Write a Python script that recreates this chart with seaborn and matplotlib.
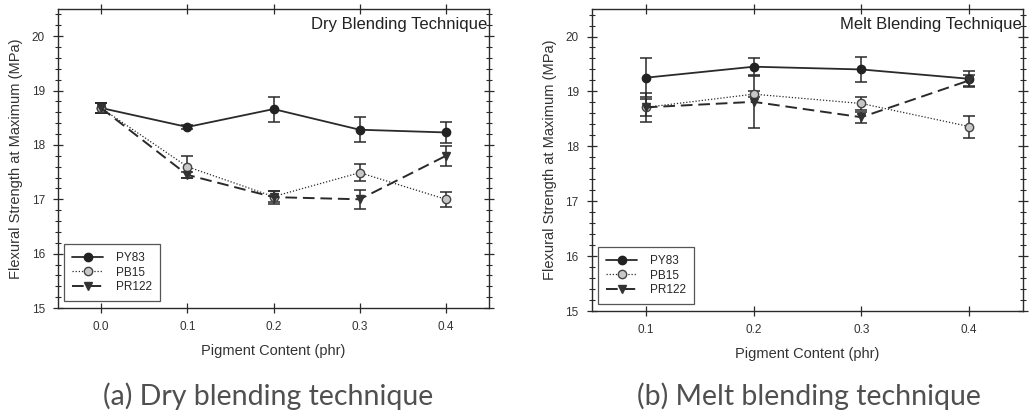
import matplotlib
matplotlib.use("Agg")
import matplotlib.pyplot as plt
from matplotlib.ticker import MultipleLocator, FixedLocator
import numpy as np
import pandas as pd
import seaborn as sns

# Flexural strength (MPa) vs pigment content (phr)
dry_content = [0.0, 0.1, 0.2, 0.3, 0.4]
dry_py83 = [18.68, 18.33, 18.66, 18.28, 18.23]
dry_py83_err = [0.09, 0.04, 0.23, 0.23, 0.20]
dry_pb15 = [18.68, 17.60, 17.05, 17.49, 17.00]
dry_pb15_err = [0.09, 0.20, 0.10, 0.16, 0.14]
dry_pr122 = [18.68, 17.45, 17.04, 17.00, 17.80]
dry_pr122_err = [0.09, 0.05, 0.12, 0.17, 0.18]

melt_content = [0.1, 0.2, 0.3, 0.4]
melt_py83 = [19.25, 19.45, 19.40, 19.23]
melt_py83_err = [0.35, 0.15, 0.22, 0.15]
melt_pb15 = [18.71, 18.95, 18.78, 18.36]
melt_pb15_err = [0.15, 0.05, 0.12, 0.20]
melt_pr122 = [18.71, 18.81, 18.53, 19.20]
melt_pr122_err = [0.27, 0.47, 0.10, 0.10]

pigments = ["PY83", "PB15", "PR122"]
panel_titles = ["Dry Blending Technique", "Melt Blending Technique"]
captions = ["(a) Dry blending technique", "(b) Melt blending technique"]

sns.set_theme(style="white")
plt.rcParams["font.family"] = ["Liberation Sans", "DejaVu Sans"]

styles = {
    "PY83": dict(ls="-", marker="o", mfc="#222222", mec="#222222", lw=1.3),
    "PB15": dict(ls=(0, (1, 1.5)), marker="o", mfc="#c8c8c8", mec="#444444", lw=0.9),
    "PR122": dict(ls=(0, (6, 3)), marker="v", mfc="#333333", mec="#333333", lw=1.4),
}
ink = "#2a2a2a"
label_color = "#333333"


def build_frame(content, values, errors):
    rows = []
    for name, vals, errs in zip(pigments, values, errors):
        for x, y, e in zip(content, vals, errs):
            rows.append({"content": x, "strength": y, "err": e, "pigment": name})
    return pd.DataFrame(rows)


panels = [
    build_frame(dry_content,
                [dry_py83, dry_pb15, dry_pr122],
                [dry_py83_err, dry_pb15_err, dry_pr122_err]),
    build_frame(melt_content,
                [melt_py83, melt_pb15, melt_pr122],
                [melt_py83_err, melt_pb15_err, melt_pr122_err]),
]
xlims = [(-0.05, 0.45), (0.05, 0.45)]
xticks = [dry_content, melt_content]

fig = plt.figure(figsize=(10.29, 4.12), dpi=100)
rects = [
    [0.0564, 0.2524, 0.4188, 0.7256],
    [0.5753, 0.2451, 0.4189, 0.7329],
]
caption_x = [0.261, 0.786]

for i, (df, rect) in enumerate(zip(panels, rects)):
    ax = fig.add_axes(rect)
    for name in pigments:
        sub = df[df["pigment"] == name]
        st = styles[name]
        sns.lineplot(data=sub, x="content", y="strength", ax=ax, color=ink,
                     linestyle=st["ls"], lw=st["lw"], marker=st["marker"],
                     markersize=6, markerfacecolor=st["mfc"],
                     markeredgecolor=st["mec"], markeredgewidth=1.0,
                     errorbar=None, label=name, legend=False)
        ax.errorbar(sub["content"], sub["strength"], yerr=sub["err"],
                    fmt="none", ecolor=ink, elinewidth=1.1, capsize=4,
                    capthick=1.1, zorder=1)

    ax.set_xlim(*xlims[i])
    ax.set_ylim(15, 20.5)
    ax.xaxis.set_major_locator(FixedLocator(xticks[i]))
    ax.set_xticklabels([f"{v:.1f}" for v in xticks[i]])
    ax.yaxis.set_major_locator(FixedLocator([15, 16, 17, 18, 19, 20]))
    ax.yaxis.set_minor_locator(MultipleLocator(0.2))
    ax.tick_params(axis="both", which="major", direction="inout", length=7,
                   width=0.9, color=ink, top=True, right=True,
                   bottom=True, left=True, labelsize=8.5,
                   labelcolor=label_color, pad=6)
    ax.tick_params(axis="y", which="minor", direction="inout", length=4,
                   width=0.8, color=ink, left=True, right=True)
    for sp in ax.spines.values():
        sp.set_color(ink)
        sp.set_linewidth(1.0)

    ax.set_xlabel("Pigment Content (phr)", fontsize=10.5, color=label_color,
                  labelpad=8)
    ax.set_ylabel("Flexural Strength at Maximum (MPa)", fontsize=10.5,
                  color=label_color, labelpad=6)
    ax.text(0.997, 0.95, panel_titles[i], transform=ax.transAxes,
            ha="right", va="center", fontsize=12, color="#222222")

    handles = [
        plt.Line2D([], [], color=ink, linestyle=styles[n]["ls"],
                   lw=styles[n]["lw"], marker=styles[n]["marker"],
                   markersize=6, markerfacecolor=styles[n]["mfc"],
                   markeredgecolor=styles[n]["mec"])
        for n in pigments
    ]
    leg = ax.legend(handles, pigments, loc="lower left", fontsize=8.5,
                    frameon=True, fancybox=False, edgecolor=ink,
                    handlelength=2.6, borderpad=0.7, labelspacing=0.22,
                    handletextpad=1.1, borderaxespad=0.3,
                    bbox_to_anchor=(0.006, 0.01))
    leg.get_frame().set_linewidth(0.9)

    fig.text(caption_x[i], 0.018, captions[i], ha="center", va="baseline",
             fontsize=20.5, color="#505050", family=["Lato", "DejaVu Sans"])

fig.savefig("out.png", dpi=100, facecolor="white")
